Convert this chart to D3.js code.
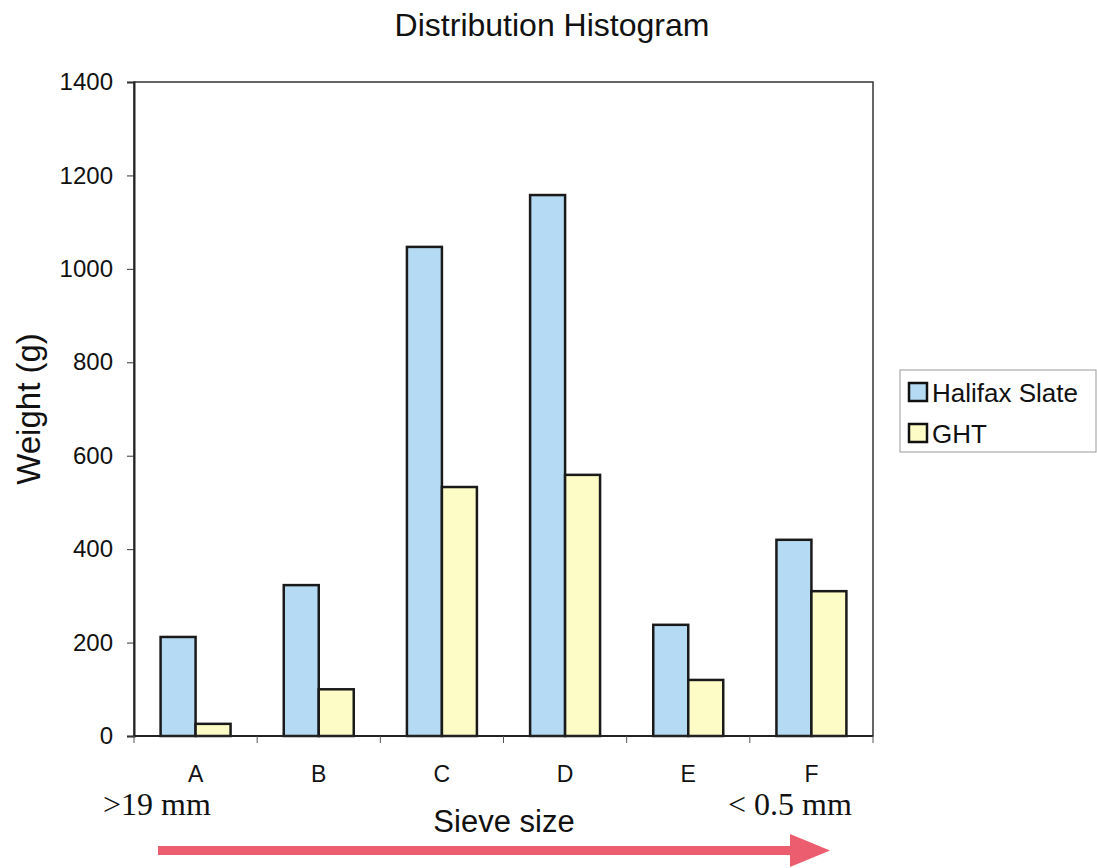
<!DOCTYPE html>
<html>
<head>
<meta charset="utf-8">
<script src="https://cdn.jsdelivr.net/npm/d3@7"></script>
<style>
  body { margin: 0; background: #fff; }
  text { font-family: "Liberation Sans", Arial, sans-serif; fill: #111; }
  .serif { font-family: "Liberation Serif", "Times New Roman", serif; }
</style>
</head>
<body>
<div id="chart"></div>
<script>
var categories = ["A", "B", "C", "D", "E", "F"];
var seriesNames = ["Halifax Slate", "GHT"];
var halifax = [212, 323, 1047, 1158, 238, 420];
var ght = [26, 100, 533, 559, 120, 310];
var yTicks = [0, 200, 400, 600, 800, 1000, 1200, 1400];
var colors = ["#b5dbf4", "#fdfcc6"];

var width = 1097, height = 868;
var margin = { left: 134, top: 82, right: 873, bottom: 736 };

var svg = d3.select("#chart").append("svg")
	.attr("width", width)
	.attr("height", height);

var x = d3.scaleBand()
	.domain(categories)
	.range([margin.left, margin.right])
	.paddingInner(0)
	.paddingOuter(0);

var x1 = d3.scaleBand()
	.domain(seriesNames)
	.range([0, x.bandwidth()])
	.paddingInner(0)
	.paddingOuter(0.76);

var y = d3.scaleLinear()
	.domain([0, 1400])
	.range([margin.bottom, margin.top]);

// title
svg.append("text")
	.attr("x", 552).attr("y", 36)
	.attr("text-anchor", "middle")
	.style("font-size", "32px")
	.text("Distribution Histogram");

// frame
svg.append("rect")
	.attr("x", margin.left).attr("y", margin.top)
	.attr("width", margin.right - margin.left)
	.attr("height", margin.bottom - margin.top)
	.attr("fill", "none")
	.attr("stroke", "#333")
	.attr("stroke-width", 1.5);

// bars
var rows = categories.map(function (c, i) {
	return { cat: c, values: [halifax[i], ght[i]] };
});

var groups = svg.selectAll("g.group")
	.data(rows).enter().append("g")
	.attr("class", "group")
	.attr("transform", function (d) { return "translate(" + x(d.cat) + ",0)"; });

groups.selectAll("rect")
	.data(function (d) { return d.values.map(function (v, j) { return { name: seriesNames[j], v: v, j: j }; }); })
	.enter().append("rect")
	.attr("x", function (d) { return x1(d.name); })
	.attr("y", function (d) { return y(d.v); })
	.attr("width", x1.bandwidth())
	.attr("height", function (d) { return y(0) - y(d.v); })
	.attr("fill", function (d) { return colors[d.j]; })
	.attr("stroke", "#1a1a1a")
	.attr("stroke-width", 2.5);

// y axis
var yAxis = d3.axisLeft(y).tickValues(yTicks).tickFormat(d3.format("d")).tickSize(7).tickPadding(14);
var gy = svg.append("g")
	.attr("transform", "translate(" + margin.left + ",0)")
	.call(yAxis);
gy.select(".domain").attr("stroke", "#222").attr("stroke-width", 2);
gy.selectAll(".tick line").attr("stroke", "#333");
gy.selectAll(".tick text")
	.style("font-size", "24px")
	.style("font-family", "Liberation Sans, Arial, sans-serif")
	.attr("fill", "#111");

// x axis: ticks at band boundaries
var gx = svg.append("g")
	.attr("transform", "translate(0," + margin.bottom + ")");
gx.append("line")
	.attr("x1", margin.left).attr("x2", margin.right)
	.attr("stroke", "#222").attr("stroke-width", 2);
var bounds = categories.map(function (c) { return x(c); }).concat([margin.right]);
gx.selectAll("line.tk")
	.data(bounds).enter().append("line")
	.attr("class", "tk")
	.attr("x1", function (d) { return d; }).attr("x2", function (d) { return d; })
	.attr("y1", 0).attr("y2", 7)
	.attr("stroke", "#555");
gx.selectAll("text.cat")
	.data(categories).enter().append("text")
	.attr("class", "cat")
	.attr("x", function (d) { return x(d) + x.bandwidth() / 2; })
	.attr("y", 46)
	.attr("text-anchor", "middle")
	.style("font-size", "23px")
	.text(function (d) { return d; });

// axis titles
svg.append("text")
	.attr("transform", "translate(40,409) rotate(-90)")
	.attr("text-anchor", "middle")
	.style("font-size", "33px")
	.text("Weight (g)");

svg.append("text")
	.attr("x", 504).attr("y", 832)
	.attr("text-anchor", "middle")
	.style("font-size", "31px")
	.text("Sieve size");

svg.append("text")
	.attr("class", "serif")
	.attr("x", 103).attr("y", 815)
	.style("font-size", "32px")
	.text(">19 mm");

svg.append("text")
	.attr("class", "serif")
	.attr("x", 728).attr("y", 815)
	.style("font-size", "32px")
	.text("< 0.5 mm");

// arrow
var arrowColor = "#ec5d6f";
svg.append("rect")
	.attr("x", 158).attr("y", 846)
	.attr("width", 636).attr("height", 9)
	.attr("fill", arrowColor);
svg.append("path")
	.attr("d", "M790,834 L830,850.5 L790,867 Z")
	.attr("fill", arrowColor);

// legend
var legend = svg.append("g").attr("transform", "translate(900,370)");
legend.append("rect")
	.attr("width", 196).attr("height", 82)
	.attr("fill", "#fff")
	.attr("stroke", "#999");
var li = legend.selectAll("g.li")
	.data(seriesNames).enter().append("g")
	.attr("class", "li")
	.attr("transform", function (d, i) { return "translate(0," + (i * 41) + ")"; });
li.append("rect")
	.attr("x", 9).attr("y", 13)
	.attr("width", 18).attr("height", 18)
	.attr("fill", function (d, i) { return colors[i]; })
	.attr("stroke", "#111").attr("stroke-width", 2.5);
li.append("text")
	.attr("x", 32).attr("y", 32)
	.style("font-size", "26px")
	.text(function (d) { return d; });
</script>
</body>
</html>
